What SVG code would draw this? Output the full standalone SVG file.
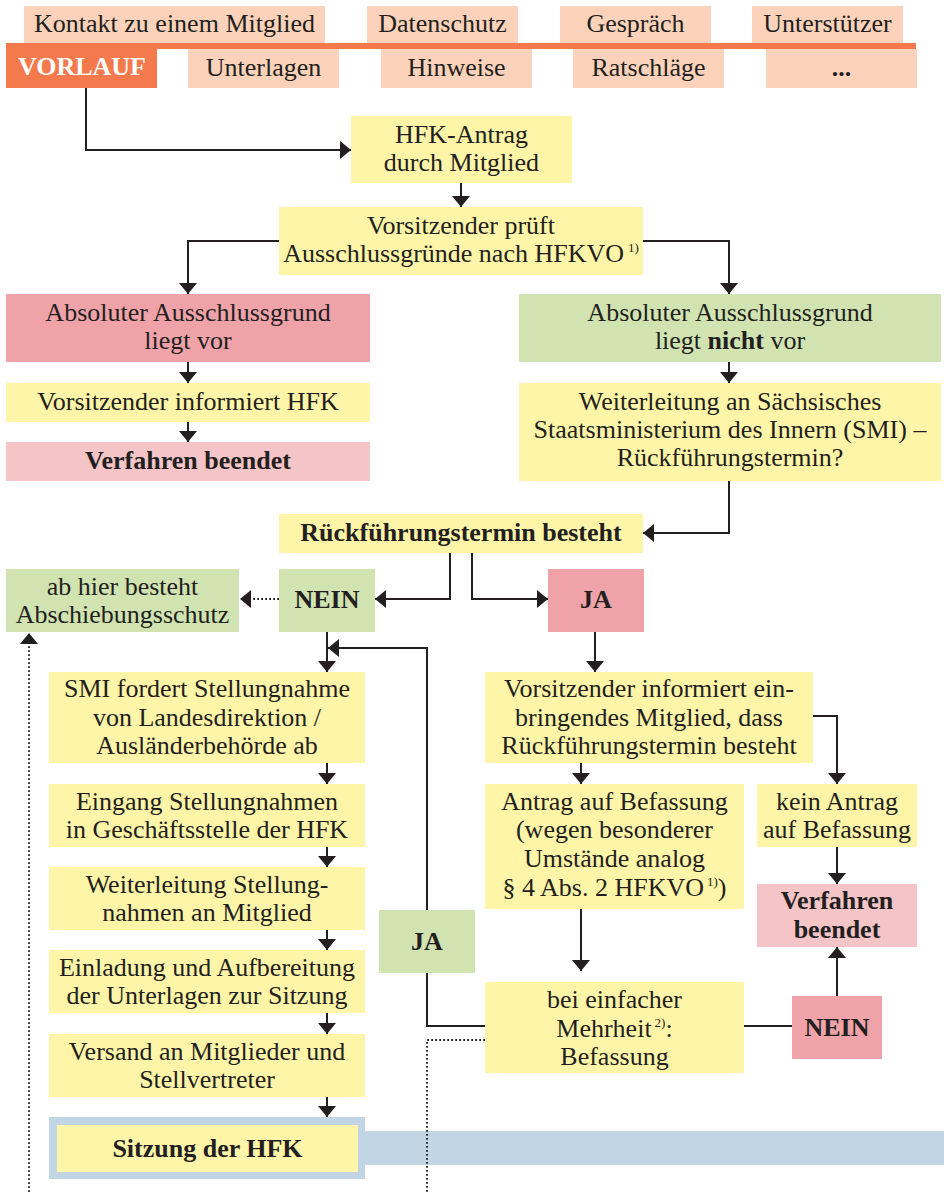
<svg xmlns="http://www.w3.org/2000/svg" width="944" height="1192" viewBox="0 0 944 1192">
<style>
text{font-family:"Liberation Serif","Times New Roman",serif;font-size:26px;fill:#231f20;text-anchor:middle}
.b{font-weight:bold}
.w{fill:#ffffff}
.sup{font-size:13px}
.peach{fill:#fcd3ba}
.orange{fill:#f47a4e}
.yellow{fill:#fff5a8}
.red{fill:#efa3a9}
.pink{fill:#f4c4c7}
.green{fill:#d0e3b1}
.blue{fill:#c1d5e4}
.ln{fill:none;stroke:#231f20;stroke-width:2}
.dot{fill:none;stroke:#231f20;stroke-width:1.8;stroke-dasharray:1.8 2.2}
</style>
<defs>
<marker id="ah" viewBox="0 0 11 18" refX="11" refY="9" markerWidth="11" markerHeight="18" markerUnits="userSpaceOnUse" orient="auto">
<path d="M0,0 L11,9 L0,18 Z" fill="#231f20"/>
</marker>
</defs>

<g id="vorlauf">
<rect class="orange" x="6" y="43" width="910" height="6"/>
<rect class="orange" x="6" y="43" width="151" height="45"/>
<text class="b w" x="82" y="75">VORLAUF</text>
</g>
<g id="kontakt"><rect class="peach" x="24" y="6" width="301" height="37"/><text x="174.5" y="32">Kontakt zu einem Mitglied</text></g>
<g id="datenschutz"><rect class="peach" x="367" y="6" width="151" height="37"/><text x="442.5" y="32">Datenschutz</text></g>
<g id="gespraech"><rect class="peach" x="560" y="6" width="151" height="37"/><text x="635.5" y="32">Gespräch</text></g>
<g id="unterstuetzer"><rect class="peach" x="752" y="6" width="151" height="37"/><text x="827.5" y="32">Unterstützer</text></g>
<g id="unterlagen"><rect class="peach" x="188" y="49" width="151" height="39"/><text x="263.5" y="76">Unterlagen</text></g>
<g id="hinweise"><rect class="peach" x="381" y="49" width="151" height="39"/><text x="456.5" y="76">Hinweise</text></g>
<g id="ratschlaege"><rect class="peach" x="573" y="49" width="151" height="39"/><text x="648.5" y="76">Ratschläge</text></g>
<g id="more"><rect class="peach" x="766" y="49" width="151" height="39"/><text class="b" x="841.5" y="76">...</text></g>

<g id="sitzung">
<rect class="blue" x="365" y="1131" width="579" height="34"/>
<rect class="blue" x="49" y="1117" width="316" height="62"/>
<rect class="yellow" x="57" y="1125" width="301" height="47"/>
<text class="b" x="207.5" y="1157">Sitzung der HFK</text>
</g>

<g id="connectors">
<path class="ln" d="M86,88 V150 H351" marker-end="url(#ah)"/>
<path class="ln" d="M461,183 V207" marker-end="url(#ah)"/>
<path class="ln" d="M279,241 H188 V294" marker-end="url(#ah)"/>
<path class="ln" d="M643,241 H729 V294" marker-end="url(#ah)"/>
<path class="ln" d="M188,362 V383" marker-end="url(#ah)"/>
<path class="ln" d="M188,422 V442" marker-end="url(#ah)"/>
<path class="ln" d="M729,362 V383" marker-end="url(#ah)"/>
<path class="ln" d="M729,481 V533 H643" marker-end="url(#ah)"/>
<path class="ln" d="M450,553 V599 H375" marker-end="url(#ah)"/>
<path class="ln" d="M472,553 V599 H548" marker-end="url(#ah)"/>
<path class="dot" d="M279,599 H240" marker-end="url(#ah)"/>
<path class="ln" d="M327,632 V672" marker-end="url(#ah)"/>
<path class="ln" d="M485,1026 H427 V648 H328" marker-end="url(#ah)"/>
<path class="ln" d="M595,632 V672" marker-end="url(#ah)"/>
<path class="ln" d="M813,716 H837 V784" marker-end="url(#ah)"/>
<path class="ln" d="M581,763 V784" marker-end="url(#ah)"/>
<path class="ln" d="M327,763 V784" marker-end="url(#ah)"/>
<path class="ln" d="M327,847 V867" marker-end="url(#ah)"/>
<path class="ln" d="M327,930 V950" marker-end="url(#ah)"/>
<path class="ln" d="M327,1013 V1034" marker-end="url(#ah)"/>
<path class="ln" d="M327,1097 V1117" marker-end="url(#ah)"/>
<path class="ln" d="M837,847 V884" marker-end="url(#ah)"/>
<path class="ln" d="M581,909 V971" marker-end="url(#ah)"/>
<path class="ln" d="M744,1026 H792"/>
<path class="ln" d="M837,996 V947" marker-end="url(#ah)"/>
<path class="dot" d="M29,1192 V633" marker-end="url(#ah)"/>
<path class="dot" d="M485,1040 H427 V1192"/>
</g>

<g id="hfk-antrag"><rect class="yellow" x="351" y="116" width="221" height="67"/>
<text x="461.5" y="143">HFK-Antrag</text><text x="461.5" y="171">durch Mitglied</text></g>
<g id="vorsitzender-prueft"><rect class="yellow" x="279" y="207" width="364" height="68"/>
<text x="461" y="234">Vorsitzender prüft</text>
<text x="461" y="262">Ausschlussgründe nach HFKVO<tspan class="sup" dx="4" dy="-10">1)</tspan></text></g>
<g id="ausschluss-ja"><rect class="red" x="6" y="294" width="364" height="68"/>
<text x="188" y="321">Absoluter Ausschlussgrund</text><text x="188" y="349">liegt vor</text></g>
<g id="ausschluss-nein"><rect class="green" x="519" y="294" width="422" height="68"/>
<text x="730" y="321">Absoluter Ausschlussgrund</text><text x="730" y="349">liegt <tspan class="b">nicht</tspan> vor</text></g>
<g id="informiert-hfk"><rect class="yellow" x="6" y="383" width="364" height="39"/>
<text x="188" y="410">Vorsitzender informiert HFK</text></g>
<g id="beendet-1"><rect class="pink" x="6" y="442" width="364" height="39"/>
<text class="b" x="188" y="469">Verfahren beendet</text></g>
<g id="weiterleitung-smi"><rect class="yellow" x="519" y="383" width="422" height="98"/>
<text x="730" y="410">Weiterleitung an Sächsisches</text>
<text x="730" y="438">Staatsministerium des Innern (SMI) –</text>
<text x="730" y="466">Rückführungstermin?</text></g>
<g id="rueckfuehrung"><rect class="yellow" x="279" y="514" width="364" height="39"/>
<text class="b" x="461" y="541">Rückführungstermin besteht</text></g>
<g id="schutz"><rect class="green" x="6" y="569" width="233" height="63"/>
<text x="122.5" y="595">ab hier besteht</text><text x="122.5" y="623">Abschiebungsschutz</text></g>
<g id="nein-1"><rect class="green" x="279" y="569" width="96" height="63"/>
<text class="b" x="327" y="608">NEIN</text></g>
<g id="ja-1"><rect class="red" x="548" y="569" width="96" height="63"/>
<text class="b" x="596" y="608">JA</text></g>
<g id="smi-fordert"><rect class="yellow" x="49" y="672" width="316" height="91"/>
<text x="207" y="697">SMI fordert Stellungnahme</text>
<text x="207" y="726">von Landesdirektion /</text>
<text x="207" y="754">Ausländerbehörde ab</text></g>
<g id="informiert-mitglied"><rect class="yellow" x="485" y="672" width="328" height="91"/>
<text x="649" y="697">Vorsitzender informiert ein-</text>
<text x="649" y="726">bringendes Mitglied, dass</text>
<text x="649" y="754">Rückführungstermin besteht</text></g>
<g id="eingang"><rect class="yellow" x="49" y="784" width="316" height="63"/>
<text x="207" y="810">Eingang Stellungnahmen</text>
<text x="207" y="838">in Geschäftsstelle der HFK</text></g>
<g id="weiterleitung-mitglied"><rect class="yellow" x="49" y="867" width="316" height="63"/>
<text x="207" y="893">Weiterleitung Stellung-</text>
<text x="207" y="921">nahmen an Mitglied</text></g>
<g id="einladung"><rect class="yellow" x="49" y="950" width="316" height="63"/>
<text x="207" y="976">Einladung und Aufbereitung</text>
<text x="207" y="1004">der Unterlagen zur Sitzung</text></g>
<g id="versand"><rect class="yellow" x="49" y="1034" width="316" height="63"/>
<text x="207" y="1060">Versand an Mitglieder und</text>
<text x="207" y="1088">Stellvertreter</text></g>
<g id="antrag-befassung"><rect class="yellow" x="485" y="784" width="259" height="125"/>
<text x="614.5" y="810">Antrag auf Befassung</text>
<text x="614.5" y="838">(wegen besonderer</text>
<text x="614.5" y="867">Umstände analog</text>
<text x="614.5" y="896">§ 4 Abs. 2 HFKVO<tspan class="sup" dx="3" dy="-10">1)</tspan><tspan dy="10">)</tspan></text></g>
<g id="kein-antrag"><rect class="yellow" x="757" y="784" width="160" height="63"/>
<text x="837" y="810">kein Antrag</text><text x="837" y="838">auf Befassung</text></g>
<g id="beendet-2"><rect class="pink" x="757" y="884" width="160" height="63"/>
<text class="b" x="837" y="909">Verfahren</text><text class="b" x="837" y="938">beendet</text></g>
<g id="ja-2"><rect class="green" x="379" y="910" width="96" height="63"/>
<text class="b" x="427" y="950">JA</text></g>
<g id="mehrheit"><rect class="yellow" x="485" y="982" width="259" height="91"/>
<text x="614.5" y="1008">bei einfacher</text>
<text x="614.5" y="1037">Mehrheit<tspan class="sup" dx="3" dy="-10">2)</tspan><tspan dy="10">:</tspan></text>
<text x="614.5" y="1065">Befassung</text></g>
<g id="nein-2"><rect class="red" x="792" y="996" width="90" height="63"/>
<text class="b" x="837" y="1036">NEIN</text></g>
</svg>
